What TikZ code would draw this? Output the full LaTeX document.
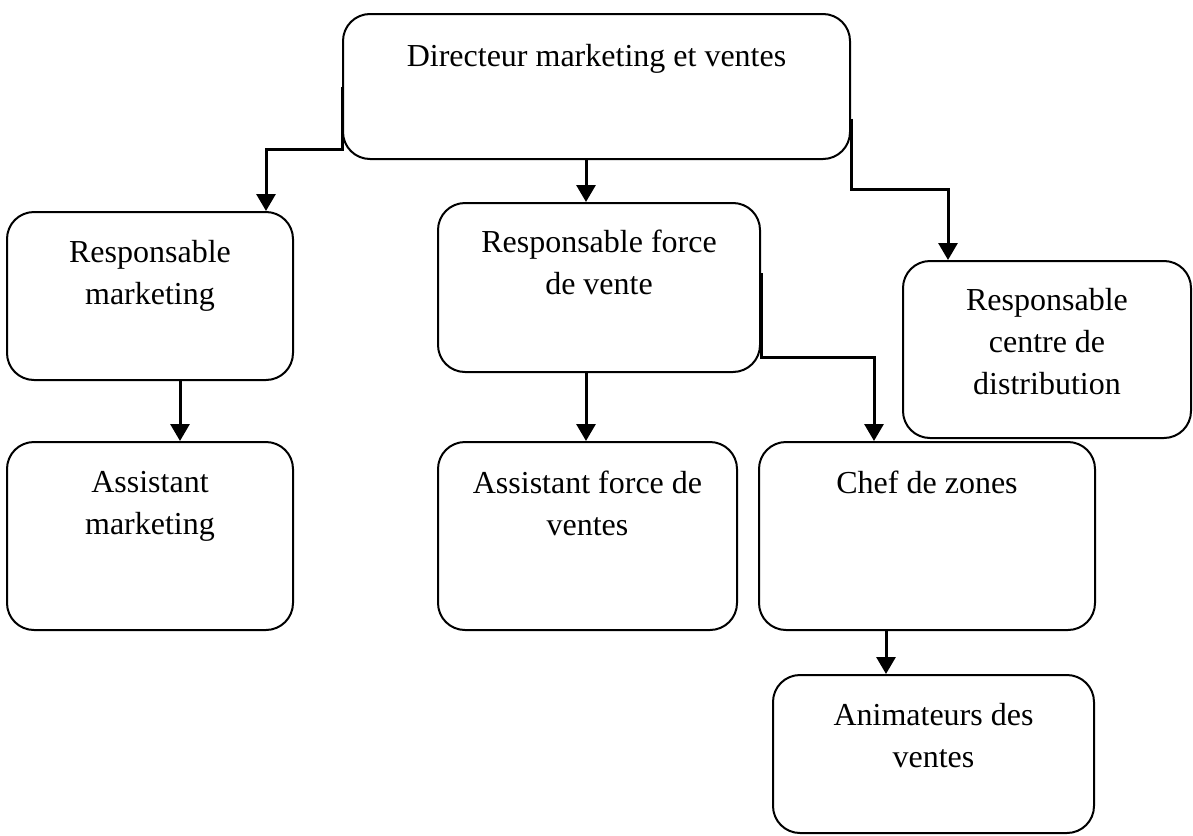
\documentclass[tikz,border=0pt]{standalone}
\usepackage{fontspec}
\setmainfont{Liberation Serif}
\usetikzlibrary{arrows.meta}
\tikzset{
  box/.style={draw, line width=2pt, rounded corners=27pt, inner sep=0pt},
  lbl/.style={anchor=north, inner sep=0pt, align=center, font=\fontsize{32}{42}\selectfont},
  arr/.style={line width=3pt, -{Triangle[width=19pt,length=17pt]}},
}
\begin{document}
\begin{tikzpicture}[x=1pt,y=-1pt]
\useasboundingbox (0,0) rectangle (1193,835);
% boxes: center (x,y), width, height
\node[box, minimum width=507pt, minimum height=145pt] (dir) at (596.5,86.5) {};
\node[box, minimum width=286pt, minimum height=168pt] (rm)  at (150,296) {};
\node[box, minimum width=322pt, minimum height=169pt] (rfv) at (599,287.5) {};
\node[box, minimum width=288pt, minimum height=177pt] (rcd) at (1047,349.5) {};
\node[box, minimum width=286pt, minimum height=188pt] (am)  at (150,536) {};
\node[box, minimum width=299pt, minimum height=188pt] (afv) at (587.5,536) {};
\node[box, minimum width=336pt, minimum height=188pt] (cz)  at (927,536) {};
\node[box, minimum width=321pt, minimum height=158pt] (av)  at (933.5,754) {};
% labels
\node[lbl] (tdir) at ([yshift=-31pt]dir.north) {Directeur marketing et ventes};
\node[lbl] (trm)  at ([yshift=-29pt]rm.north)  {Responsable\\marketing};
\node[lbl] (trfv) at ([yshift=-28pt]rfv.north) {Responsable force\\de vente};
\node[lbl] (trcd) at ([yshift=-28pt]rcd.north) {Responsable\\centre de\\distribution};
\node[lbl] (tam)  at ([yshift=-30pt]am.north)  {Assistant\\marketing};
\node[lbl] (tafv) at ([yshift=-30pt]afv.north) {Assistant force de\\ventes};
\node[lbl] (tcz)  at ([yshift=-30pt]cz.north)  {Chef de zones};
\node[lbl] (tav)  at ([yshift=-29pt]av.north)  {Animateurs des\\ventes};
% connectors
\draw[arr] (dir.west) -- (dir.west |- 0,149) -| (rm.north -| 266,0);
\draw[arr] (dir.south -| 586,0) -- (rfv.north -| 586,0);
\draw[arr] ([yshift=-32pt]dir.east) -- (dir.east |- 0,189) -| (rcd.north -| 948,0);
\draw[arr] (rm.south -| 180,0) -- (am.north -| 180,0);
\draw[arr] (rfv.south -| 586,0) -- (afv.north -| 586,0);
\draw[arr] (rfv.east |- 0,273) -- (rfv.east |- 0,357) -| (cz.north -| 874,0);
\draw[arr] (cz.south -| 886,0) -- (av.north -| 886,0);
\end{tikzpicture}
\end{document}
